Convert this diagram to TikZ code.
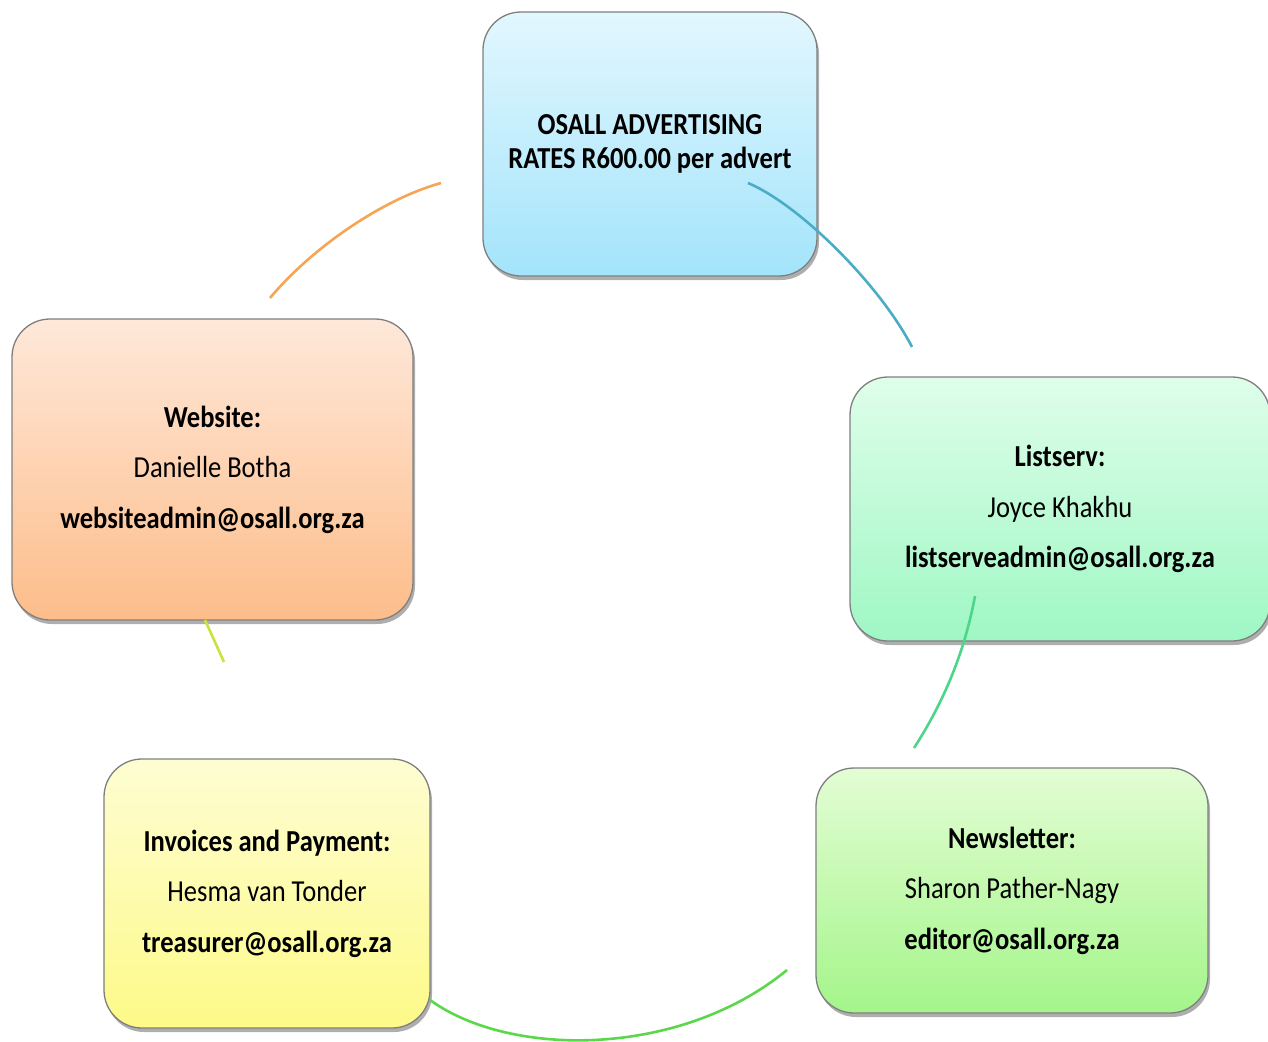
\documentclass[tikz,border=0pt]{standalone}
\usepackage{fontspec}
\setmainfont{Carlito}[FakeStretch=0.87]
\usetikzlibrary{shadows}
\definecolor{topA}{HTML}{E2F7FE}\definecolor{topB}{HTML}{A3E4FB}
\definecolor{lsA}{HTML}{DFFEEA}\definecolor{lsB}{HTML}{9FF7C4}
\definecolor{wsA}{HTML}{FEE8D9}\definecolor{wsB}{HTML}{FDBD8A}
\definecolor{ivA}{HTML}{FEFDD2}\definecolor{ivB}{HTML}{FDFA88}
\definecolor{nlA}{HTML}{E3FDD4}\definecolor{nlB}{HTML}{A4F58A}
\definecolor{cOrange}{HTML}{F5A553}
\definecolor{cBlue}{HTML}{4BACC6}
\definecolor{cTeal}{HTML}{4CD68A}
\definecolor{cGreen}{HTML}{5AD84A}
\definecolor{cLime}{HTML}{C8E43C}
\definecolor{edge}{HTML}{7F7F7F}
\tikzset{
  cardbox/.style={draw=edge, line width=1.3pt, rounded corners=38pt, inner sep=0pt, outer sep=0pt,
    align=center, font=\fontsize{30.5}{30.5}\selectfont,
    drop shadow={shadow xshift=2pt, shadow yshift=-4pt, opacity=0.45, fill=black!70}},
  arcline/.style={line width=2.6pt}
}
\begin{document}
\begin{tikzpicture}[x=1pt,y=-1pt]
\useasboundingbox (0,0) rectangle (1268,1041);
\node[cardbox, minimum width=334pt, minimum height=264pt, top color=topA, bottom color=topB] (top) at (650,144)
  {\textbf{OSALL ADVERTISING}\\[4pt]\textbf{RATES R600.00 per advert}};
\node[cardbox, minimum width=420pt, minimum height=264pt, top color=lsA, bottom color=lsB] (ls) at (1060,509)
  {\textbf{Listserv:}\\[20pt]Joyce Khakhu\\[20pt]\textbf{listserveadmin@osall.org.za}};
\node[cardbox, minimum width=401pt, minimum height=301pt, top color=wsA, bottom color=wsB] (ws) at (212.5,469.5)
  {\textbf{Website:}\\[20pt]Danielle Botha\\[20pt]\textbf{websiteadmin@osall.org.za}};
\node[cardbox, minimum width=326pt, minimum height=269pt, top color=ivA, bottom color=ivB] (iv) at (267,893.5)
  {\textbf{Invoices and Payment:}\\[20pt]Hesma van Tonder\\[20pt]\textbf{treasurer@osall.org.za}};
\node[cardbox, minimum width=392pt, minimum height=245pt, top color=nlA, bottom color=nlB] (nl) at (1012,890.5)
  {\textbf{Newsletter:}\\[20pt]Sharon Pather-Nagy\\[20pt]\textbf{editor@osall.org.za}};
\coordinate (o1) at (270,298); \coordinate (o2) at (441,183);
\coordinate (b1) at (748,183); \coordinate (b2) at (912,347);
\coordinate (t1) at (975,596); \coordinate (t2) at (914,748);
\coordinate (g1) at (430,1000); \coordinate (g2) at (787,970);
\coordinate (y1) at (205,620); \coordinate (y2) at (224,662);
\draw[arcline, cOrange] (o1) .. controls (310,250) and (380,200) .. (o2);
\draw[arcline, cBlue] (b1) .. controls (800,205) and (880,285) .. (b2);
\draw[arcline, cTeal] (t1) .. controls (965,650) and (945,700) .. (t2);
\draw[arcline, cGreen] (g1) .. controls (510,1058) and (680,1058) .. (g2);
\draw[arcline, cLime] (y1) -- (y2);
\end{tikzpicture}
\end{document}
